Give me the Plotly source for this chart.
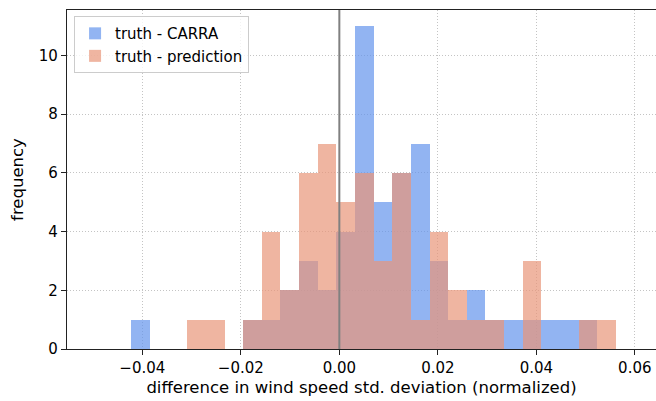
import plotly.graph_objects as go

# histogram bins (shared by both series)
bin_start = -0.04223
bin_width = 0.003784
n_bins = 26

carra_counts = [1, 0, 0, 0, 0, 0, 1, 1, 2, 3, 2, 4, 11, 5, 6, 7, 3, 1, 2, 1, 1, 1, 1, 1, 1, 0]
pred_counts = [0, 0, 0, 1, 1, 0, 1, 4, 2, 6, 7, 5, 6, 3, 6, 1, 4, 2, 1, 1, 0, 3, 0, 0, 1, 1]

series_names = ["truth - CARRA", "truth - prediction"]
x_ticks = [-0.04, -0.02, 0.0, 0.02, 0.04, 0.06]
y_ticks = [0, 2, 4, 6, 8, 10]

centers = [bin_start + (i + 0.5) * bin_width for i in range(n_bins)]

fig = go.Figure()
fig.add_trace(go.Bar(x=centers, y=carra_counts, width=bin_width, name=series_names[0],
                     marker=dict(color="#6495ED", line=dict(width=0)), opacity=0.7))
fig.add_trace(go.Bar(x=centers, y=pred_counts, width=bin_width, name=series_names[1],
                     marker=dict(color="#E9967A", line=dict(width=0)), opacity=0.7))

fig.add_shape(type="line", x0=0, x1=0, y0=0, y1=1, xref="x", yref="y domain",
              line=dict(color="#808080", width=2), layer="above")

FS = 15
TS = 16.5
axis_common = dict(showline=True, linecolor="#222222", linewidth=1.2,
                   ticks="outside", ticklen=5, tickcolor="#222222", tickwidth=1,
                   showgrid=True, gridcolor="#c4c4c4", griddash="1px,2px", gridwidth=1,
                   zeroline=False, tickfont=dict(size=FS, color="black"))

fig.update_layout(
    width=656, height=401,
    margin=dict(l=67, r=0, t=10, b=52),
    barmode="overlay", bargap=0,
    plot_bgcolor="white", paper_bgcolor="white",
    font=dict(family="DejaVu Sans", size=FS, color="black"),
    legend=dict(x=0.012, y=0.982, xanchor="left", yanchor="top",
                bgcolor="rgba(255,255,255,0.8)", bordercolor="#cccccc", borderwidth=1,
                font=dict(size=FS), tracegroupgap=0),
    xaxis=dict(range=[-0.0553, 0.0643], tickvals=x_ticks, tickformat=".2f", mirror=True,
               title=dict(text="difference in wind speed std. deviation (normalized)",
                          font=dict(size=TS), standoff=5), **axis_common),
    yaxis=dict(range=[0, 11.55], tickvals=y_ticks, mirror=False,
               title=dict(text="frequency", font=dict(size=TS), standoff=11), **axis_common),
)

fig.write_html("out.html")
